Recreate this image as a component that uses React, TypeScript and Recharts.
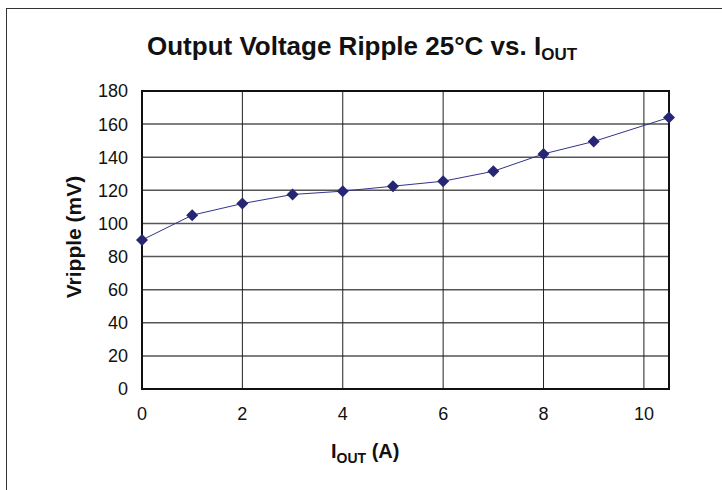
import React from "react"
import {
  LineChart, Line, XAxis, YAxis, CartesianGrid, ReferenceArea,
} from "recharts"

// I_OUT (A) vs output ripple (mV) at 25°C
const iout = [0, 1, 2, 3, 4, 5, 6, 7, 8, 9, 10.5]
const vripple = [90, 105, 112, 117.5, 119.5, 122.5, 125.5, 131.5, 142, 149.5, 164]
const xTicks = [0, 2, 4, 6, 8, 10]
const yTicks = [0, 20, 40, 60, 80, 100, 120, 140, 160, 180]

const data = iout.map((x, i) => ({ x, v: vripple[i] }))

const FONT = "'Liberation Sans', Arial, Helvetica, sans-serif"
const NAVY = "#262673"

const Diamond = (props: any) => {
  const { cx, cy, index } = props
  if (cx == null || cy == null) return <g key={index} />
  const r = 6
  return (
    <path
      key={index}
      d={`M${cx},${cy - r}L${cx + r},${cy}L${cx},${cy + r}L${cx - r},${cy}Z`}
      fill={NAVY}
    />
  )
}

export default function App() {
  return (
    <div style={{ position: "fixed", left: 0, top: 0, width: 722, height: 490, overflow: "hidden", background: "#fff", fontFamily: FONT }}>
      {/* outer frame, runs off right/bottom edge */}
      <div style={{ position: "absolute", left: 6, top: 8, width: 800, height: 600, border: "1.5px solid #333" }} />

      <div style={{ position: "absolute", left: 0, top: 0 }}>
        <LineChart width={722} height={490} data={data} margin={{ top: 91, right: 53, left: 0, bottom: 0 }}>
          <CartesianGrid vertical={false} stroke="#555" strokeWidth={1.5} />
          <CartesianGrid horizontal={false} stroke="#222" strokeWidth={1} />
          <XAxis
            dataKey="x" type="number" domain={[0, 10.5]} ticks={xTicks}
            height={101} axisLine={false} tickLine={false} tickMargin={12}
            tick={{ fontSize: 18, fill: "#111", fontFamily: FONT }}
          />
          <YAxis
            type="number" domain={[0, 180]} ticks={yTicks} width={142}
            axisLine={false} tickLine={false} tickMargin={8}
            tick={{ fontSize: 18, fill: "#111", fontFamily: FONT }}
          />
          <ReferenceArea x1={0} x2={10.5} y1={0} y2={180} fill="none" stroke="#111" strokeWidth={2} ifOverflow="visible" />
          <Line
            dataKey="v" type="linear" stroke="#33338a" strokeWidth={1}
            dot={Diamond} activeDot={false} isAnimationActive={false}
          />
        </LineChart>
      </div>

      {/* title */}
      <div style={{ position: "absolute", left: 147, top: 33, lineHeight: "26px", fontWeight: 700, fontSize: 26, color: "#111", whiteSpace: "nowrap" }}>
        Output Voltage Ripple 25°C vs. I<span style={{ fontSize: 17, position: "relative", top: 5 }}>OUT</span>
      </div>

      {/* y axis label */}
      <div style={{ position: "absolute", left: 73, top: 237, lineHeight: "21px", transform: "translate(-50%, -50%) rotate(-90deg)", fontWeight: 700, fontSize: 21, color: "#111", whiteSpace: "nowrap" }}>
        Vripple (mV)
      </div>

      {/* x axis label */}
      <div style={{ position: "absolute", left: 331, top: 441, lineHeight: "20px", fontWeight: 700, fontSize: 20, color: "#111", whiteSpace: "nowrap" }}>
        I<span style={{ fontSize: 14, position: "relative", top: 5 }}>OUT</span> (A)
      </div>
    </div>
  )
}
